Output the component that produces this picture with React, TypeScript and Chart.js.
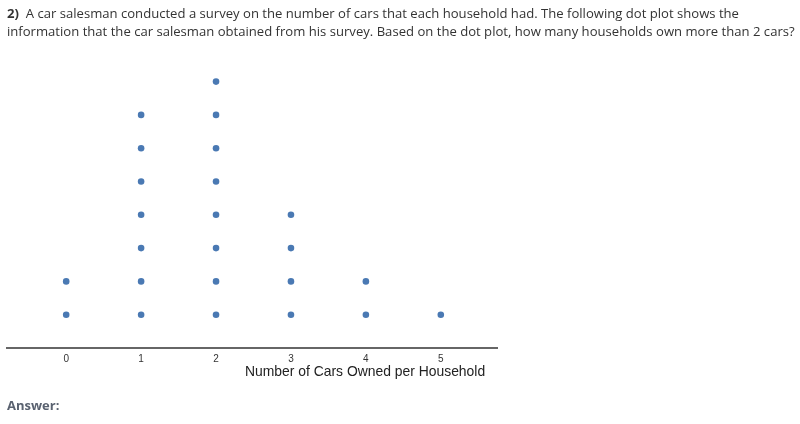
import React, { useEffect, useRef } from "react";
import { Chart, registerables } from "chart.js";

Chart.register(...registerables);

const categories = [0, 1, 2, 3, 4, 5];
const counts = [2, 7, 8, 4, 2, 1];
const tickLabels = ["0", "1", "2", "3", "4", "5"];
const axisTitle = "Number of Cars Owned per Household";

const points: { x: number; y: number }[] = [];
categories.forEach((c, i) => {
  for (let k = 1; k <= counts[i]; k++) points.push({ x: c, y: k });
});

export default function App() {
  const ref = useRef<HTMLCanvasElement | null>(null);
  useEffect(() => {
    document.body.style.margin = "0";
    if (!ref.current) return;
    const chart = new Chart(ref.current, {
      type: "scatter",
      data: {
        datasets: [
          {
            data: points,
            backgroundColor: "#4a79b3",
            borderColor: "#4a79b3",
            pointRadius: 3.3,
            pointBorderWidth: 0,
          },
        ],
      },
      options: {
        animation: false,
        responsive: false,
        devicePixelRatio: 1,
        layout: { padding: { left: 7, right: 303, top: 15, bottom: 56 } },
        plugins: { legend: { display: false }, tooltip: { enabled: false } },
        scales: {
          x: {
            type: "linear",
            min: -0.79,
            max: 5.75,
            grid: { display: false, drawTicks: false },
            border: { display: true, color: "#666", width: 2 },
            afterBuildTicks: (s: any) => {
              s.ticks = categories.map((v) => ({ value: v }));
            },
            afterFit: (s: any) => {
              s.height = 20;
            },
            ticks: {
              padding: 5,
              color: "#333",
              font: { family: "Arial, Liberation Sans", size: 10 },
              maxRotation: 0,
              autoSkip: false,
              callback: (v: any) => tickLabels[categories.indexOf(Number(v))] ?? "",
            },
          },
          y: {
            display: false,
            min: 0,
            max: 10,
          },
        },
      },
    });
    return () => chart.destroy();
  }, []);

  return (
    <div style={{ position: "relative", width: 800, height: 424, overflow: "hidden", background: "#fff" }}>
      <canvas ref={ref} width={800} height={424} style={{ position: "absolute", left: 0, top: 0, width: 800, height: 424 }} />
      <div
        style={{
          position: "absolute",
          left: 7,
          top: 4,
          width: 795,
          fontFamily: "'Open Sans', sans-serif",
          fontSize: 13.1,
          lineHeight: "18px",
          color: "#333",
          whiteSpace: "nowrap",
        }}
      >
        <b>2)</b>&nbsp; A car salesman conducted a survey on the number of cars that each household had. The following dot plot shows the
        <br />
        information that the car salesman obtained from his survey. Based on the dot plot, how many households own more than 2 cars?
      </div>
      <div
        style={{
          position: "absolute",
          left: 245,
          top: 362,
          fontFamily: "Arial, 'Liberation Sans', sans-serif",
          fontSize: 13.9,
          lineHeight: "18px",
          color: "#222",
          whiteSpace: "nowrap",
        }}
      >
        {axisTitle}
      </div>
      <div
        style={{
          position: "absolute",
          left: 7,
          top: 396,
          fontFamily: "'Open Sans', sans-serif",
          fontSize: 13,
          fontWeight: "bold",
          lineHeight: "18px",
          color: "#5a6270",
        }}
      >
        Answer:
      </div>
    </div>
  );
}
